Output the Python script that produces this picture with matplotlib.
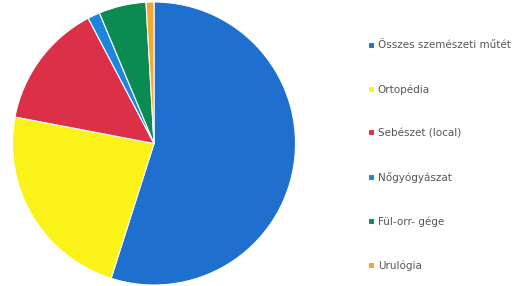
import matplotlib.pyplot as plt

# Slice data (percent shares)
labels = ['Összes szemészeti műtét', 'Ortopédia', 'Sebészet (local)',
          'Nőgyógyászat', 'Fül-orr- gége', 'Urulógia']
shares = [54.9, 23.1, 14.3, 1.4, 5.4, 0.9]
colors = ['#1f6fcf', '#fbf21a', '#dc2f48', '#1c86dc', '#0b8a52', '#f0a830']

fig = plt.figure(figsize=(5.18, 2.86), dpi=100)

# Pie placed where it sits in the picture
cx, cy, r = 154, 143.5, 141.5
ax = fig.add_axes([(cx - r) / 518, (286 - cy - r) / 286, 2 * r / 518, 2 * r / 286])
wedges, _ = ax.pie(shares, colors=colors, startangle=90, counterclock=False,
                   wedgeprops=dict(edgecolor='white', linewidth=0.8))
ax.set_xlim(-1, 1)
ax.set_ylim(-1, 1)
ax.axis('off')

leg = fig.legend(wedges, labels, loc='upper left', bbox_to_anchor=(359 / 518, 1 - 31 / 286),
                 frameon=False, fontsize=7.5, labelspacing=3.23,
                 handlelength=0.5, handleheight=0.5, handletextpad=0.4,
                 labelcolor='#555555')

fig.savefig('out.png', dpi=100)
